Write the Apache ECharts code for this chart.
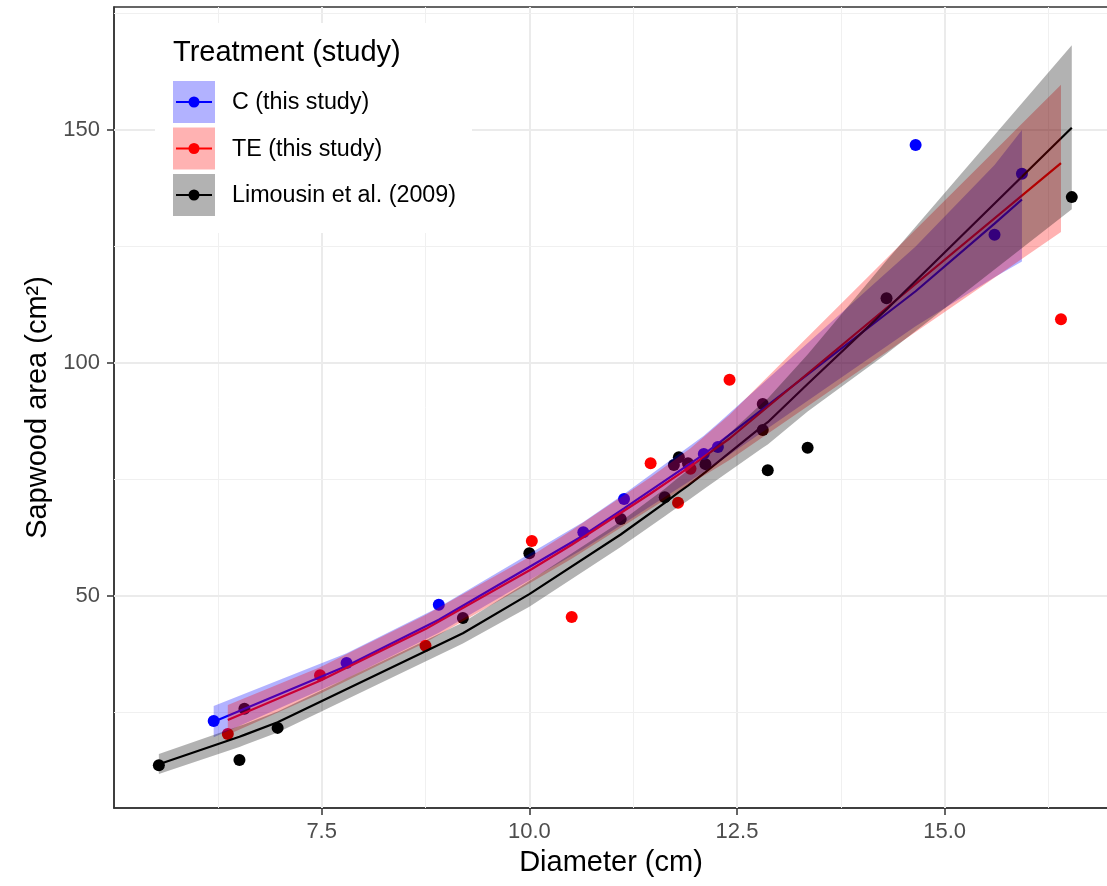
<!DOCTYPE html>
<html>
<head>
<meta charset="utf-8">
<title>Sapwood area vs diameter</title>
<script src="https://cdn.jsdelivr.net/npm/echarts@6/dist/echarts.min.js"></script>
<style>
  html, body { margin: 0; padding: 0; background: #ffffff; }
  #chart { width: 1107px; height: 886px; }
</style>
</head>
<body>
<div id="chart"></div>
<script>
// Axis breaks
const xMajor = [7.5, 10, 12.5, 15];
const xMinor = [6.25, 8.75, 11.25, 13.75, 16.25];
const yMajor = [50, 100, 150];
const yMinor = [25, 75, 125, 175];

// Observed trees: diameter (cm) and sapwood area (cm2)
const cDiam  = [6.20, 7.80, 8.91, 10.65, 11.14, 12.10, 12.27, 14.65, 15.60, 15.93];
const cArea  = [23.2, 35.6, 48.1, 63.7, 70.8, 80.5, 82.0, 146.8, 127.5, 140.6];
const teDiam = [6.37, 7.48, 8.75, 10.03, 10.51, 11.46, 11.79, 11.94, 12.41, 16.40];
const teArea = [20.4, 33.0, 39.3, 61.8, 45.5, 78.5, 70.0, 77.3, 96.4, 109.4];
const limDiam = [5.54, 6.51, 6.57, 6.97, 9.20, 10.00, 11.10, 11.63, 11.74, 11.80, 11.91, 12.12, 12.81, 12.81, 12.87, 13.35, 14.30, 16.53];
const limArea = [13.7, 14.8, 25.8, 21.7, 45.3, 59.2, 66.5, 71.2, 78.1, 79.8, 78.5, 78.3, 91.2, 85.6, 77.0, 81.8, 113.9, 135.6];

// Fitted allometry with confidence bands, evaluated at each group's diameters
const cFit = [23.0, 35.0, 44.9, 63.0, 68.8, 80.4, 82.7, 115.4, 129.9, 135.1];
const cLo  = [19.7, 32.3, 42.1, 60.1, 65.6, 76.6, 78.6, 107.9, 118.4, 121.8];
const cHi  = [26.4, 37.7, 47.6, 65.9, 71.9, 84.4, 87.0, 125.0, 142.5, 150.0];

const teFit = [23.4, 31.8, 42.9, 55.8, 61.0, 72.0, 76.0, 77.8, 83.8, 142.9];
const teLo  = [20.2, 29.0, 40.0, 53.0, 58.0, 68.7, 72.4, 74.1, 79.2, 128.1];
const teHi  = [26.6, 34.7, 45.9, 58.7, 64.1, 75.5, 79.8, 81.7, 88.9, 159.7];

const limFitDiam = [5.54, 6.51, 6.57, 6.97, 9.20, 10.00, 11.10, 11.63, 11.74, 11.80, 11.91, 12.12, 12.81, 12.87, 13.35, 14.30, 16.53];
const limFit = [13.9, 19.8, 20.2, 22.9, 42.0, 50.4, 63.2, 70.0, 71.5, 72.3, 73.7, 76.6, 86.5, 87.3, 95.5, 111.5, 150.5];
const limLo  = [11.8, 17.6, 18.0, 20.7, 39.8, 47.7, 60.5, 67.1, 68.5, 69.2, 70.5, 73.2, 81.8, 82.5, 89.6, 102.0, 133.0];
const limHi  = [16.1, 22.1, 22.5, 25.2, 44.3, 53.2, 66.0, 73.0, 74.6, 75.5, 77.0, 80.1, 91.5, 92.4, 101.8, 122.0, 168.2];

const legendNames = ['C (this study)', 'TE (this study)', 'Limousin et al. (2009)'];

const FONT = '"Liberation Sans", Arial, Helvetica, sans-serif';
const COL = { c: '#0000ff', te: '#ff0000', lim: '#000000' };
const FILL = { c: 'rgba(0,0,255,0.3)', te: 'rgba(255,0,0,0.3)', lim: 'rgba(0,0,0,0.3)' };

const pairs = (xs, ys) => xs.map((x, i) => [x, ys[i]]);

function ribbon(name, xs, lo, hi, fill, z) {
  return {
    type: 'custom', name: name, z: z, silent: true, clip: true,
    data: [xs[0]],
    renderItem: function (params, api) {
      const pts = [];
      for (let i = 0; i < xs.length; i++) pts.push(api.coord([xs[i], hi[i]]));
      for (let i = xs.length - 1; i >= 0; i--) pts.push(api.coord([xs[i], lo[i]]));
      return { type: 'polygon', shape: { points: pts }, style: { fill: fill } };
    }
  };
}

function fitLine(name, xs, ys, color) {
  return {
    type: 'line', name: name, z: 3, silent: true,
    data: pairs(xs, ys), showSymbol: false, symbol: 'none',
    lineStyle: { color: color, width: 2.2 }, itemStyle: { color: color }
  };
}

function points(name, xs, ys, color) {
  return {
    type: 'scatter', name: name, z: 2, silent: true,
    data: pairs(xs, ys), symbolSize: 12,
    itemStyle: { color: color, opacity: 1 }
  };
}

// Panel grid lines
const gridLines = [];
xMajor.forEach(v => gridLines.push({ xAxis: v, lineStyle: { color: '#ebebeb', width: 2, type: 'solid' } }));
xMinor.forEach(v => gridLines.push({ xAxis: v, lineStyle: { color: '#f0f0f0', width: 1, type: 'solid' } }));
yMajor.forEach(v => gridLines.push({ yAxis: v, lineStyle: { color: '#ebebeb', width: 2, type: 'solid' } }));
yMinor.forEach(v => gridLines.push({ yAxis: v, lineStyle: { color: '#f0f0f0', width: 1, type: 'solid' } }));

// Legend drawn as graphic elements (fill key + line + dot)
const keyX = 173, keyW = 42, keyH = 42;
const keyY = [81, 127.5, 174];
const keyCols = [COL.c, COL.te, COL.lim];
const keyFills = [FILL.c, FILL.te, FILL.lim];
const legendGraphics = [
  { type: 'rect', left: 155, top: 23, z: 10, shape: { width: 317, height: 210 }, style: { fill: '#ffffff' } },
  { type: 'text', x: 173, y: 53, z: 11, style: { text: 'Treatment (study)', font: '29px ' + FONT, fill: '#000000', textVerticalAlign: 'middle', verticalAlign: 'middle' } }
];
legendNames.forEach((nm, i) => {
  const cy = keyY[i] + keyH / 2;
  legendGraphics.push({ type: 'rect', x: keyX, y: keyY[i], z: 11, shape: { width: keyW, height: keyH }, style: { fill: keyFills[i] } });
  legendGraphics.push({ type: 'line', z: 12, shape: { x1: keyX + 3, y1: cy, x2: keyX + keyW - 3, y2: cy }, style: { stroke: keyCols[i], lineWidth: 2.2 } });
  legendGraphics.push({ type: 'circle', z: 13, shape: { cx: keyX + keyW / 2, cy: cy, r: 5.5 }, style: { fill: keyCols[i] } });
  legendGraphics.push({ type: 'text', x: 232, y: cy + 1, z: 13, style: { text: nm, font: '23.3px ' + FONT, fill: '#000000', textVerticalAlign: 'middle', verticalAlign: 'middle' } });
});

const chart = echarts.init(document.getElementById('chart'), null, { renderer: 'canvas', width: 1107, height: 886 });

const axisLineStyle = { color: '#333333', width: 1.5 };

chart.setOption({
  animation: false,
  backgroundColor: '#ffffff',
  textStyle: { fontFamily: FONT },
  grid: {
    left: 114, top: 7, width: 994, height: 801,
    show: true, borderColor: '#333333', borderWidth: 1.5, backgroundColor: '#ffffff',
    containLabel: false, outerBoundsMode: 'none'
  },
  xAxis: {
    type: 'value', min: 5.0, max: 16.966, interval: 2.5,
    name: 'Diameter (cm)', nameLocation: 'middle', nameGap: 40,
    nameTextStyle: { fontSize: 29, color: '#000000', fontFamily: FONT },
    axisLine: { show: true, onZero: false, lineStyle: axisLineStyle },
    axisTick: { show: true, customValues: xMajor, length: 7, inside: false, lineStyle: axisLineStyle },
    axisLabel: { show: true, customValues: xMajor, fontSize: 22, color: '#4d4d4d', margin: 13, fontFamily: FONT,
      formatter: v => Number(v).toFixed(1) },
    splitLine: { show: false }, minorSplitLine: { show: false }
  },
  yAxis: {
    type: 'value', min: 4.506, max: 176.4,
    name: 'Sapwood area (cm²)', nameLocation: 'middle', nameGap: 52, nameRotate: 90,
    nameTextStyle: { fontSize: 29, color: '#000000', fontFamily: FONT },
    axisLine: { show: true, onZero: false, lineStyle: axisLineStyle },
    axisTick: { show: true, customValues: yMajor, length: 7, inside: false, lineStyle: axisLineStyle },
    axisLabel: { show: true, customValues: yMajor, fontSize: 22, color: '#4d4d4d', margin: 14, fontFamily: FONT },
    splitLine: { show: false }
  },
  graphic: legendGraphics,
  series: [
    {
      type: 'line', name: 'grid', data: [], silent: true, z: 1,
      markLine: { silent: true, symbol: ['none', 'none'], z: 1, label: { show: false }, animation: false, data: gridLines }
    },
    points(legendNames[2], limDiam, limArea, COL.lim),
    points(legendNames[0], cDiam, cArea, COL.c),
    points(legendNames[1], teDiam, teArea, COL.te),
    fitLine(legendNames[0], cDiam, cFit, COL.c),
    fitLine(legendNames[1], teDiam, teFit, COL.te),
    fitLine(legendNames[2], limFitDiam, limFit, COL.lim),
    ribbon(legendNames[0], cDiam, cLo, cHi, FILL.c, 4),
    ribbon(legendNames[1], teDiam, teLo, teHi, FILL.te, 5),
    ribbon(legendNames[2], limFitDiam, limLo, limHi, FILL.lim, 6)
  ]
});
</script>
</body>
</html>
